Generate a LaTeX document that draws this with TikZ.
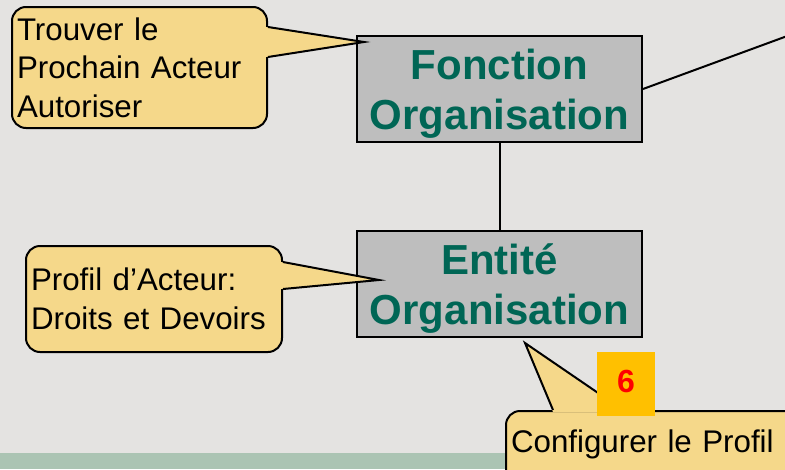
\documentclass[tikz,border=0pt]{standalone}
\usepackage{fontspec}
\setmainfont{Liberation Sans}
\usetikzlibrary{calc}
\definecolor{pagebg}{HTML}{E4E3E1}
\definecolor{bandgreen}{HTML}{ABC4B3}
\definecolor{calloutfill}{HTML}{F5D88A}
\definecolor{boxgray}{HTML}{BEBEBE}
\definecolor{orgteal}{HTML}{006655}
\definecolor{badgeorange}{HTML}{FFC000}
% two centred lines, baseline on the last one
\newcommand{\twolines}[2]{\begin{tabular}[b]{@{}c@{}}#1\\#2\end{tabular}}
\begin{document}
\begin{tikzpicture}[x=1pt,y=-1pt,
  orgbox/.style={draw=black, line width=2pt, fill=boxgray, minimum width=285pt,
    minimum height=106pt, inner sep=0pt, text=orgteal, text height=81pt, text depth=0pt,
    font=\fontsize{42}{50.5}\selectfont\bfseries},
  callbox/.style={draw=black, line width=2pt, fill=calloutfill, rounded corners=14pt,
    inner xsep=5pt, inner ysep=0pt, align=left, font=\fontsize{31.3}{38.5}\selectfont},
  pointerfill/.style={fill=calloutfill},
  pointeredge/.style={draw=black, line width=2pt, line join=miter},
  link/.style={draw=black, line width=2pt},
  badge/.style={fill=badgeorange, minimum width=58pt, minimum height=64pt, inner sep=0pt,
    text=red, text height=23pt, text depth=6pt, font=\fontsize{32}{34}\selectfont\bfseries}]
\useasboundingbox (0,0) rectangle (785,469);
\fill[pagebg] (0,0) rectangle (785,469);
\fill[bandgreen] (0,453) rectangle (785,469);
\begin{scope}
\clip (0,0) rectangle (785,469);

% organisation boxes
\node[orgbox] (fonction) at (499.5,89) {\twolines{Fonction}{Organisation}};
\node[orgbox] (entite) at (499.5,284) {\twolines{Entité}{Organisation}};
\coordinate (offpage) at (790,35);
\draw[link] (fonction.south) -- (entite.north);
\draw[link] (fonction.east) -- (offpage);

% callout boxes
\node[callbox, minimum width=255pt, minimum height=121pt, text width=245pt]
  (call1) at (139.5,67.5) {Trouver le\\Prochain Acteur\\Autoriser};
\node[callbox, minimum width=256pt, minimum height=106pt, text width=246pt]
  (call2) at (154,299) {Profil d’Acteur:\\Droits et Devoirs};
\node[callbox, minimum width=294pt, minimum height=76pt, text width=284pt,
  text height=22pt, text depth=16pt]
  (call3) at (653,449) {Configurer le Profil};

% callout pointers
\coordinate (tip1) at ($(fonction.north west)+(8,7)$);
\coordinate (b1a) at ($(call1.north east)+(0,21)$);
\coordinate (b1b) at ($(call1.north east)+(0,51)$);
\fill[pointerfill] ($(b1a)+(-2,0)$) -- (tip1) -- ($(b1b)+(-2,0)$) -- cycle;
\draw[pointeredge] (b1a) -- (tip1) -- (b1b);

\coordinate (tip2) at ($(entite.west)+(23,-4)$);
\coordinate (b2a) at ($(call2.north east)+(0,17)$);
\coordinate (b2b) at ($(call2.north east)+(0,44)$);
\fill[pointerfill] ($(b2a)+(-2,0)$) -- (tip2) -- ($(b2b)+(-2,0)$) -- cycle;
\draw[pointeredge] (b2a) -- (tip2) -- (b2b);

\coordinate (tip3) at ($(entite.south)+(25.5,5)$);
\coordinate (b3a) at ($(call3.north west)+(48,0)$);
\coordinate (b3b) at ($(call3.north west)+(118,0)$);
\fill[pointerfill] ($(b3a)+(0,2)$) -- (tip3) -- ($(b3b)+(0,2)$) -- cycle;
\draw[pointeredge] (b3a) -- (tip3) -- (b3b);

% step number
\node[badge] (step6) at (626,384) {6};
\end{scope}
\end{tikzpicture}
\end{document}
